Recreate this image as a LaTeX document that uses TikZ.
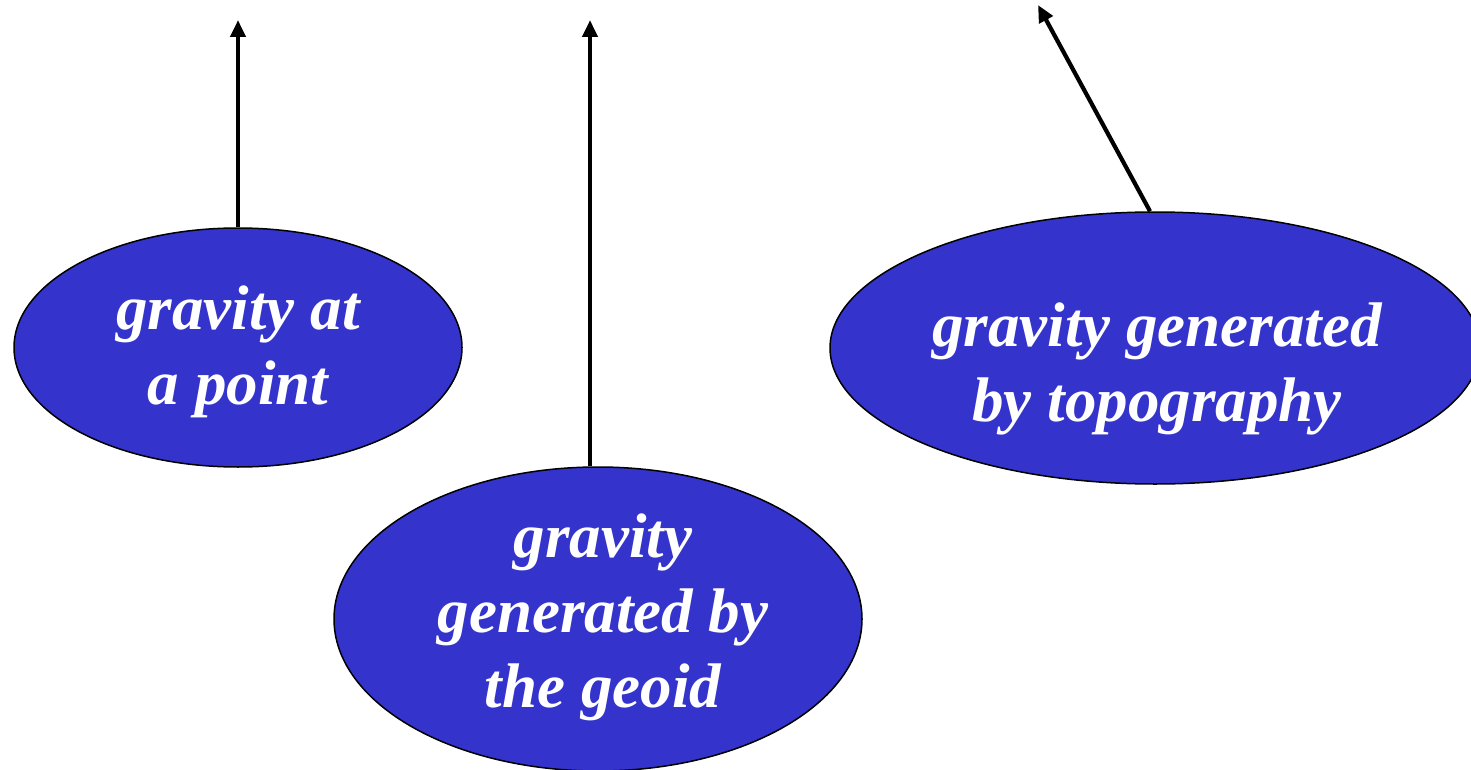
\documentclass[tikz,border=0pt]{standalone}
\usepackage{fontspec}
\setmainfont{Liberation Serif}
\usetikzlibrary{shapes.geometric,arrows.meta}
\definecolor{blob}{HTML}{3434CC}
\begin{document}
\begin{tikzpicture}[x=1pt,y=-1pt,
  blobshape/.style={ellipse,draw=black,line width=1.5pt,fill=blob,inner sep=0pt},
  blobtext/.style={text=white,align=center,font=\fontsize{63}{75}\selectfont\bfseries\itshape},
  arr/.style={line width=4.2pt,-{Triangle[width=15pt,length=17pt]}}]
\useasboundingbox (0,0) rectangle (1471,770);
\node[blobshape,minimum width=448pt,minimum height=239pt] (l) at (238,347.5) {};
\node[blobshape,minimum width=528pt,minimum height=304pt] (m) at (598,619) {};
\node[blobshape,minimum width=650pt,minimum height=272pt] (r) at (1155,348) {};
\node[blobtext] (lt) at (238,352) {gravity at\\a point};
\node[blobtext] (mt) at (603,617) {gravity\\generated by\\the geoid};
\node[blobtext] (rt) at (1157,369) {gravity generated\\by topography};
\coordinate (la) at (238,20);
\coordinate (ma) at (590,20);
\coordinate (ra) at (1038,5);
\draw[arr] (l.north) -- (la);
\draw[arr] (m.north -| ma) -- (ma);
\draw[arr] ([xshift=-5pt]r.north) -- (ra);
\end{tikzpicture}
\end{document}
